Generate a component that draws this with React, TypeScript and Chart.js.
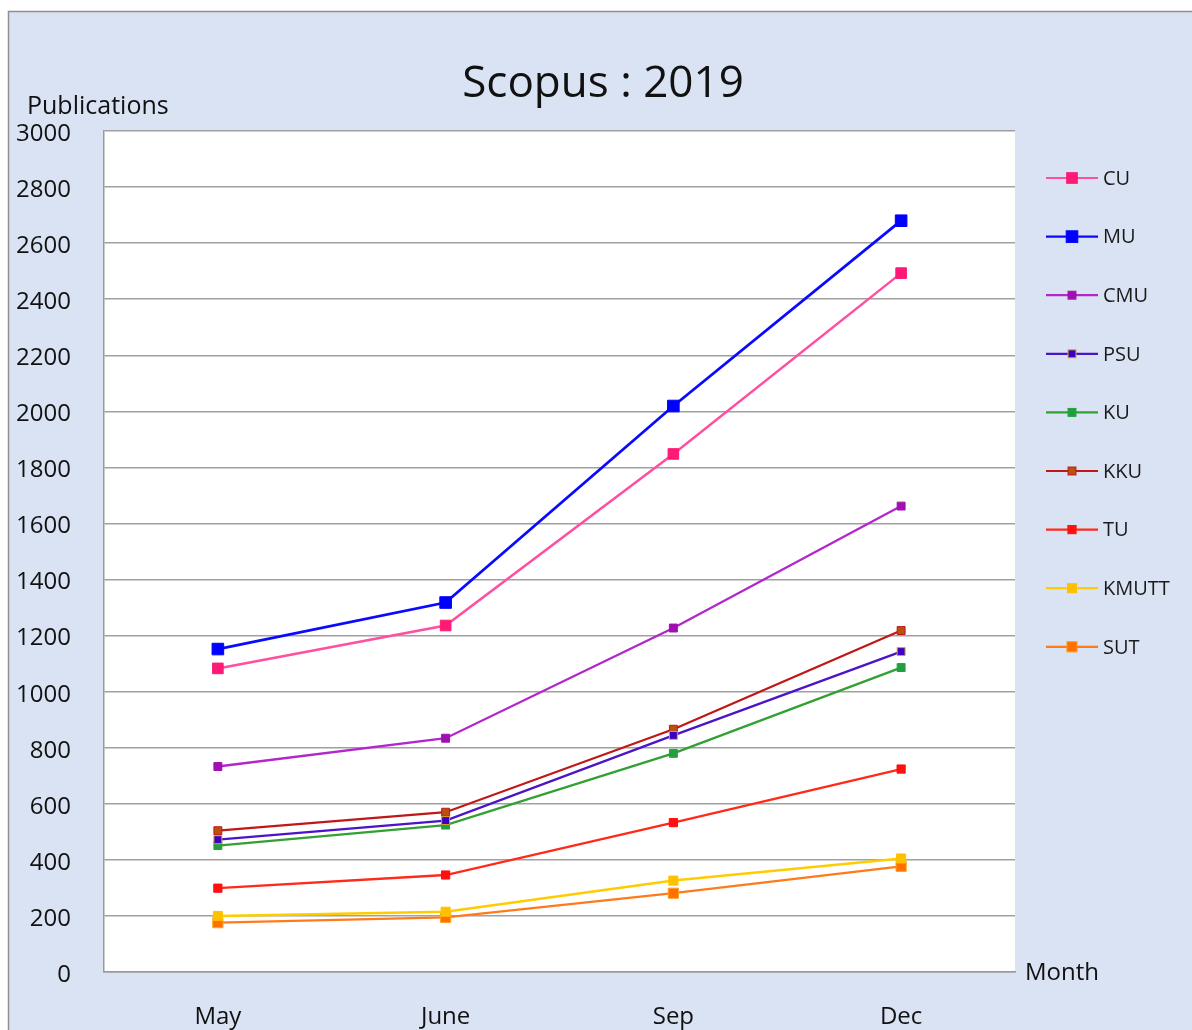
import React, { useEffect, useRef } from "react";
import { Chart, registerables } from "chart.js";

Chart.register(...registerables);

const MONTHS = ["May", "June", "Sep", "Dec"];
const SERIES_NAMES = ["CU", "MU", "CMU", "PSU", "KU", "KKU", "TU", "KMUTT", "SUT"];
const CU = [1083, 1236, 1848, 2493];
const MU = [1152, 1318, 2019, 2680];
const CMU = [733, 834, 1227, 1662];
const PSU = [472, 540, 844, 1143];
const KU = [451, 524, 780, 1086];
const KKU = [504, 570, 866, 1218];
const TU = [299, 346, 533, 724];
const KMUTT = [200, 215, 326, 405];
const SUT = [176, 195, 281, 377];
const Y_TICKS = [0, 200, 400, 600, 800, 1000, 1200, 1400, 1600, 1800, 2000, 2200, 2400, 2600, 2800, 3000];

const TITLE = "Scopus : 2019";
const Y_LABEL = "Publications";
const X_LABEL = "Month";

const FONT = "'Open Sans', 'Noto Sans', sans-serif";

const STYLES = [
  { line: "#FF4FA0", fill: "#FF1A75", border: "#FF1A75", r: 7.5, w: 2.5 },
  { line: "#0A0AFF", fill: "#0000FF", border: "#0000FF", r: 8.2, w: 2.8 },
  { line: "#B226CC", fill: "#A010B0", border: "#A010B0", r: 5.6, w: 2.3 },
  { line: "#4A14C8", fill: "#3A00C8", border: "#E0A020", r: 5.6, w: 2.3 },
  { line: "#32A032", fill: "#22A040", border: "#22A040", r: 5.6, w: 2.3 },
  { line: "#C01818", fill: "#B85010", border: "#C01818", r: 5.6, w: 2.3 },
  { line: "#FF2A1A", fill: "#FF1010", border: "#FF1010", r: 5.8, w: 2.3 },
  { line: "#FFCC00", fill: "#FFC000", border: "#FFC000", r: 6.4, w: 2.5 },
  { line: "#FF7A1A", fill: "#FF7000", border: "#FFA020", r: 7.2, w: 2.3 },
];

const SERIES = [CU, MU, CMU, PSU, KU, KKU, TU, KMUTT, SUT];

const decor = {
  id: "decor",
  beforeDraw(chart: any) {
    const ctx = chart.ctx;
    const { left, top, right, bottom } = chart.chartArea;
    ctx.save();
    ctx.fillStyle = "#FFFFFF";
    ctx.fillRect(0, 0, chart.width, chart.height);
    ctx.fillStyle = "#DAE3F3";
    ctx.fillRect(8, 11, chart.width, chart.height);
    ctx.strokeStyle = "#8F8F8F";
    ctx.lineWidth = 1.5;
    ctx.beginPath();
    ctx.moveTo(8.5, chart.height + 5);
    ctx.lineTo(8.5, 11.5);
    ctx.lineTo(chart.width + 5, 11.5);
    ctx.stroke();
    ctx.fillStyle = "#FFFFFF";
    ctx.fillRect(left, top, right - left, bottom - top);
    ctx.restore();
  },
  afterDraw(chart: any) {
    const ctx = chart.ctx;
    ctx.save();
    ctx.fillStyle = "#111111";
    ctx.textBaseline = "alphabetic";
    ctx.font = `44px ${FONT}`;
    ctx.textAlign = "center";
    ctx.fillText(TITLE, 603, 97);
    ctx.font = `25px ${FONT}`;
    ctx.textAlign = "left";
    ctx.fillText(Y_LABEL, 27, 114);
    ctx.font = `24px ${FONT}`;
    ctx.fillText(X_LABEL, 1025, 980);

    // legend
    ctx.font = `20px ${FONT}`;
    chart.data.datasets.forEach((ds: any, i: number) => {
      const y = 178 + i * 58.6;
      ctx.strokeStyle = ds.borderColor;
      ctx.lineWidth = 2.2;
      ctx.beginPath();
      ctx.moveTo(1046, y);
      ctx.lineTo(1098, y);
      ctx.stroke();
      const s = ds.pointRadius * Math.SQRT2;
      ctx.fillStyle = ds.pointBackgroundColor;
      ctx.fillRect(1072 - s / 2, y - s / 2, s, s);
      ctx.strokeStyle = ds.pointBorderColor;
      ctx.lineWidth = 1;
      ctx.strokeRect(1072 - s / 2, y - s / 2, s, s);
      ctx.fillStyle = "#1A1A1A";
      ctx.textBaseline = "middle";
      ctx.textAlign = "left";
      ctx.fillText(ds.label, 1103, y + 1);
    });
    ctx.restore();
  },
};

export default function App() {
  const ref = useRef<HTMLCanvasElement | null>(null);
  useEffect(() => {
    if (!ref.current) return;
    const chart = new Chart(ref.current, {
      type: "line",
      data: {
        labels: MONTHS,
        datasets: SERIES.map((data, i) => ({
          label: SERIES_NAMES[i],
          data,
          borderColor: STYLES[i].line,
          backgroundColor: STYLES[i].fill,
          borderWidth: STYLES[i].w,
          pointStyle: "rect",
          pointRadius: STYLES[i].r,
          pointBackgroundColor: STYLES[i].fill,
          pointBorderColor: STYLES[i].border,
          pointBorderWidth: 1,
          tension: 0,
          fill: false,
        })),
      },
      options: {
        animation: false,
        responsive: false,
        devicePixelRatio: 1,
        layout: { padding: { left: 0, top: 131, right: 177, bottom: 0 } },
        plugins: {
          legend: { display: false },
          title: { display: false },
          tooltip: { enabled: false },
        },
        scales: {
          x: {
            type: "category",
            offset: true,
            grid: { display: false, drawTicks: false },
            border: { display: true, color: "#9A9A9A", width: 1.5 },
            ticks: {
              color: "#111111",
              font: { family: FONT, size: 24 },
              padding: 31,
              maxRotation: 0,
            },
            afterFit(scale: any) {
              scale.height = 58;
            },
          },
          y: {
            min: 0,
            max: 3000,
            afterBuildTicks(scale: any) {
              scale.ticks = Y_TICKS.map((v) => ({ value: v }));
            },
            grid: { color: "#A0A0A0", lineWidth: 1.5, drawTicks: false },
            border: { display: true, color: "#9A9A9A", width: 1.5 },
            ticks: {
              color: "#111111",
              font: { family: FONT, size: 24 },
              padding: 33,
              labelOffset: 3,
              callback: (v: any) => String(v),
            },
            afterFit(scale: any) {
              scale.width = 104;
            },
          },
        },
      },
      plugins: [decor],
    });
    return () => chart.destroy();
  }, []);
  return (
    <div style={{ position: "fixed", left: 0, top: 0, width: 1192, height: 1030, overflow: "hidden" }}>
      <canvas ref={ref} width={1192} height={1030} style={{ width: 1192, height: 1030, display: "block" }} />
    </div>
  );
}
